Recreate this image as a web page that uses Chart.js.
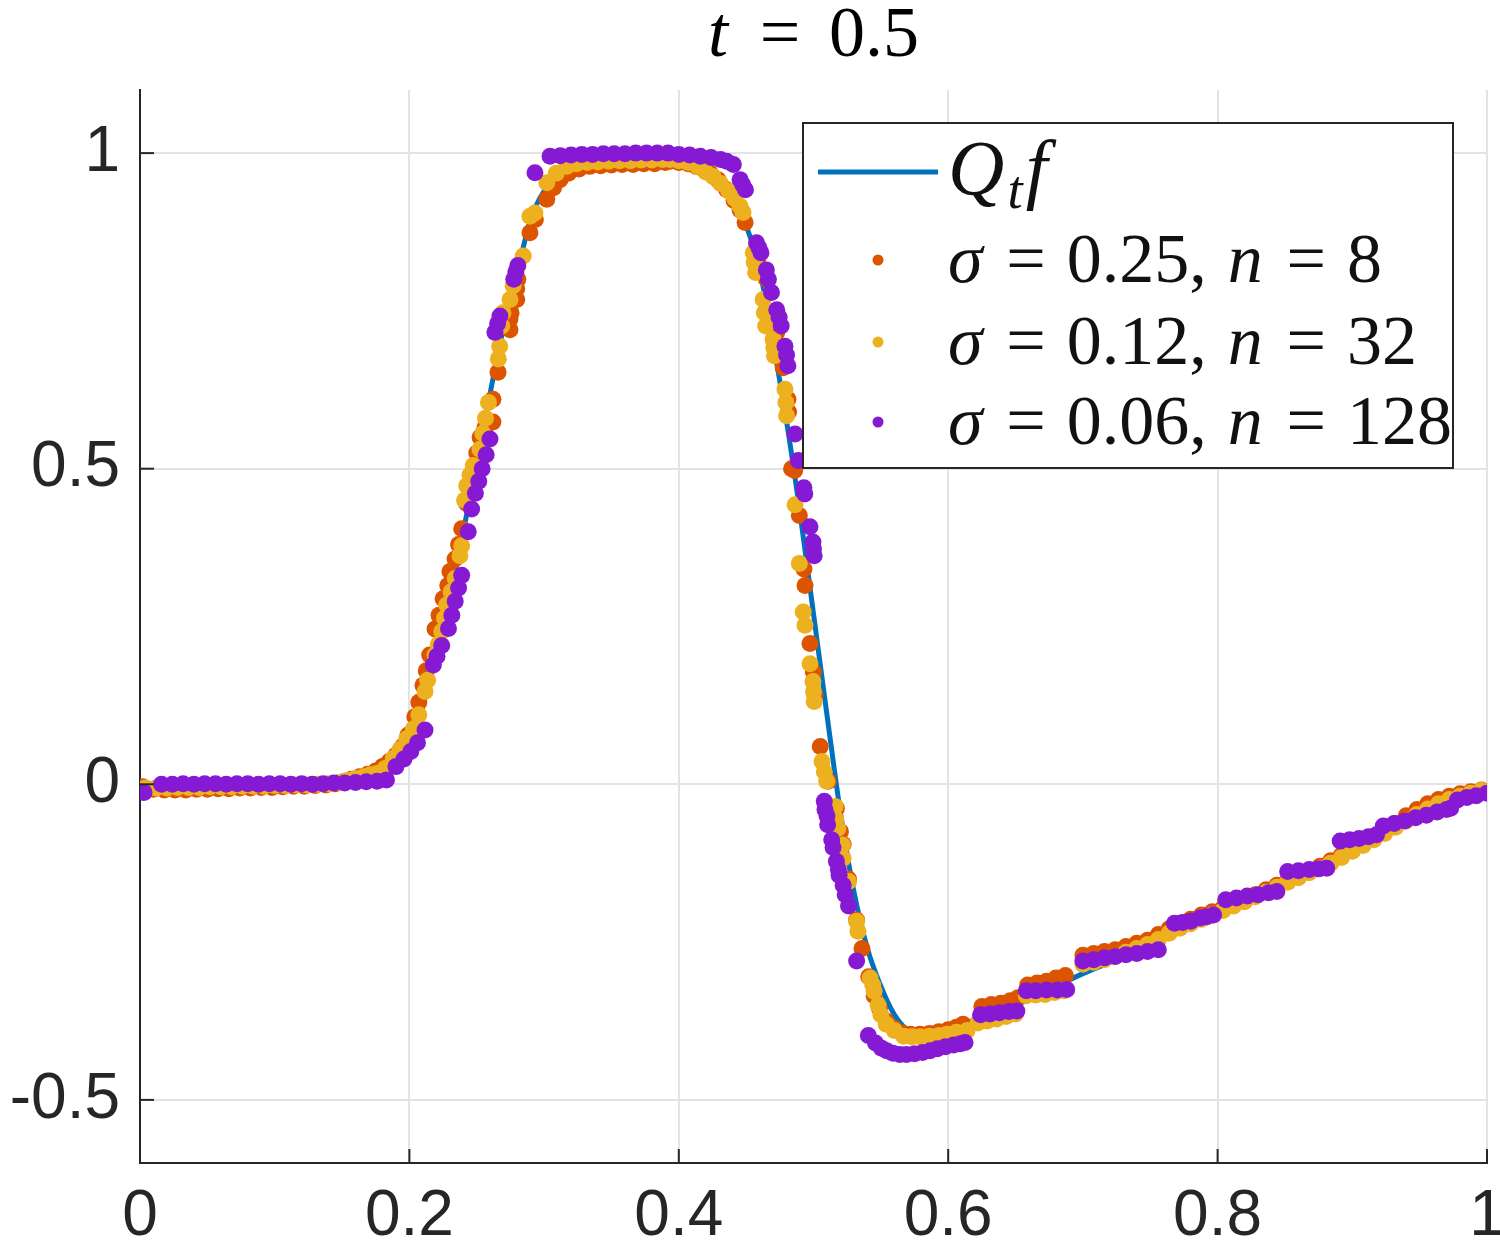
<!DOCTYPE html>
<html>
<head>
<meta charset="utf-8">
<script src="https://cdn.jsdelivr.net/npm/chart.js@4.4.1/dist/chart.umd.min.js"></script>
<style>
html, body { margin: 0; padding: 0; background: #fff; }
</style>
</head>
<body>
<canvas id="scatterChart" width="1500" height="1242"></canvas>
<script>
const xTicks = [0, 0.2, 0.4, 0.6, 0.8, 1];
const yTicks = [-0.5, 0, 0.5, 1];

// Q_t f, the reference curve
const qtCurve = [
    [0, -0.01], [0.05, -0.005], [0.1, -0.002], [0.13, 0], [0.15, 0.004], [0.17, 0.012],
    [0.18, 0.02], [0.19, 0.035], [0.2, 0.065], [0.21, 0.125], [0.22, 0.205], [0.23, 0.3],
    [0.24, 0.4], [0.25, 0.51], [0.26, 0.62], [0.27, 0.725], [0.28, 0.81], [0.29, 0.895],
    [0.3, 0.94], [0.31, 0.962], [0.32, 0.972], [0.34, 0.979], [0.36, 0.982], [0.38, 0.983],
    [0.4, 0.982], [0.41, 0.978], [0.42, 0.97], [0.43, 0.955], [0.44, 0.93], [0.45, 0.885],
    [0.46, 0.815], [0.47, 0.7], [0.48, 0.575], [0.49, 0.43], [0.5, 0.27], [0.51, 0.11],
    [0.52, -0.045], [0.53, -0.17], [0.54, -0.26], [0.55, -0.32], [0.56, -0.365], [0.57, -0.39],
    [0.58, -0.398], [0.59, -0.396], [0.6, -0.39], [0.62, -0.373], [0.65, -0.35], [0.7, -0.3],
    [0.75, -0.255], [0.8, -0.198], [0.85, -0.15], [0.9, -0.098], [0.95, -0.05], [1, -0.01]
];

// sigma = 0.25, n = 8
const sigma025 = [
    [0.002, -0.004], [0.010, -0.008], [0.018, -0.009], [0.026, -0.009], [0.034, -0.009], [0.042, -0.008],
    [0.050, -0.008], [0.058, -0.007], [0.066, -0.007], [0.074, -0.006], [0.082, -0.006], [0.090, -0.005],
    [0.098, -0.005], [0.106, -0.004], [0.114, -0.003], [0.122, -0.003], [0.130, -0.002], [0.138, -0.001],
    [0.145, 0.001], [0.151, 0.004], [0.157, 0.008], [0.163, 0.012], [0.169, 0.016], [0.175, 0.021],
    [0.180, 0.028], [0.185, 0.036], [0.190, 0.046], [0.195, 0.060], [0.199, 0.078], [0.204, 0.107],
    [0.207, 0.130], [0.2101, 0.157], [0.2125, 0.180], [0.215, 0.205], [0.219, 0.246], [0.222, 0.268],
    [0.225, 0.294], [0.2285, 0.315], [0.2301, 0.337], [0.2339, 0.357], [0.2365, 0.380], [0.2388, 0.405],
    [0.2425, 0.445], [0.245, 0.473], [0.2475, 0.500], [0.250, 0.525], [0.2525, 0.550], [0.256, 0.565],
    [0.262, 0.574], [0.262, 0.610], [0.2658, 0.653], [0.2747, 0.720], [0.2747, 0.737], [0.2755, 0.747],
    [0.2797, 0.768], [0.2797, 0.785], [0.2805, 0.800], [0.2895, 0.874], [0.2935, 0.895], [0.302, 0.927],
    [0.307, 0.945], [0.3118, 0.958], [0.318, 0.968], [0.326, 0.975], [0.334, 0.979], [0.342, 0.980],
    [0.350, 0.981], [0.358, 0.982], [0.366, 0.982], [0.374, 0.983], [0.382, 0.983], [0.390, 0.985],
    [0.3935, 0.987], [0.400, 0.985], [0.407, 0.983], [0.413, 0.979], [0.418, 0.975], [0.4232, 0.969],
    [0.429, 0.958], [0.4355, 0.942], [0.441, 0.925], [0.4455, 0.910], [0.4492, 0.890], [0.4577, 0.842],
    [0.4585, 0.830], [0.4595, 0.820], [0.4651, 0.800], [0.4727, 0.716], [0.4775, 0.660], [0.481, 0.610],
    [0.4815, 0.590], [0.4837, 0.500], [0.486, 0.497], [0.4895, 0.426], [0.4929, 0.341], [0.4937, 0.315],
    [0.4974, 0.223], [0.4999, 0.178], [0.501, 0.141], [0.505, 0.060], [0.511, 0.005], [0.517, -0.038],
    [0.520, -0.075], [0.522, -0.095], [0.526, -0.150], [0.532, -0.215], [0.536, -0.260], [0.541, -0.305],
    [0.545, -0.335], [0.549, -0.355], [0.554, -0.375], [0.560, -0.387], [0.566, -0.394], [0.572, -0.396],
    [0.579, -0.396], [0.586, -0.395], [0.593, -0.392], [0.600, -0.389], [0.606, -0.385], [0.611, -0.380],
    [0.625, -0.352], [0.632, -0.349], [0.639, -0.347], [0.646, -0.343], [0.652, -0.338], [0.659, -0.318],
    [0.666, -0.315], [0.673, -0.312], [0.680, -0.307], [0.687, -0.303], [0.700, -0.271], [0.708, -0.268],
    [0.716, -0.265], [0.724, -0.262], [0.732, -0.257], [0.740, -0.252], [0.748, -0.247], [0.756, -0.238],
    [0.764, -0.229], [0.772, -0.221], [0.780, -0.214], [0.788, -0.207], [0.796, -0.202], [0.804, -0.196],
    [0.812, -0.190], [0.820, -0.183], [0.828, -0.175], [0.836, -0.167], [0.844, -0.160], [0.852, -0.152],
    [0.860, -0.145], [0.868, -0.137], [0.876, -0.130], [0.884, -0.121], [0.892, -0.112], [0.900, -0.102],
    [0.908, -0.092], [0.916, -0.083], [0.924, -0.072], [0.932, -0.062], [0.940, -0.050], [0.948, -0.040],
    [0.956, -0.031], [0.964, -0.024], [0.972, -0.019], [0.980, -0.015], [0.988, -0.012], [0.996, -0.009]
];

// sigma = 0.12, n = 32
const sigma012 = [
    [0.004, -0.006], [0.012, -0.006], [0.020, -0.006], [0.028, -0.005], [0.036, -0.005], [0.044, -0.005],
    [0.052, -0.004], [0.060, -0.004], [0.068, -0.004], [0.076, -0.003], [0.084, -0.003], [0.092, -0.003],
    [0.100, -0.002], [0.108, -0.002], [0.116, -0.001], [0.124, -0.001], [0.132, 0.000], [0.140, 0.001],
    [0.148, 0.003], [0.154, 0.006], [0.160, 0.009], [0.166, 0.012], [0.171, 0.015], [0.176, 0.017],
    [0.182, 0.025], [0.188, 0.041], [0.193, 0.055], [0.198, 0.072], [0.203, 0.088], [0.207, 0.110],
    [0.2116, 0.147], [0.2135, 0.165], [0.219, 0.205], [0.2215, 0.222], [0.224, 0.242], [0.226, 0.263],
    [0.2277, 0.284], [0.231, 0.305], [0.234, 0.326], [0.2375, 0.362], [0.2388, 0.378], [0.241, 0.450],
    [0.2425, 0.473], [0.245, 0.490], [0.2474, 0.505], [0.2524, 0.531], [0.2545, 0.556], [0.2565, 0.580],
    [0.2587, 0.605], [0.266, 0.674], [0.267, 0.694], [0.2685, 0.726], [0.2695, 0.747], [0.2747, 0.768],
    [0.277, 0.790], [0.2845, 0.837], [0.2895, 0.900], [0.2932, 0.905], [0.302, 0.953], [0.309, 0.968],
    [0.3167, 0.979], [0.324, 0.983], [0.332, 0.985], [0.340, 0.986], [0.348, 0.987], [0.356, 0.988],
    [0.364, 0.988], [0.372, 0.989], [0.380, 0.989], [0.388, 0.990], [0.3935, 0.990], [0.400, 0.988],
    [0.407, 0.985], [0.414, 0.979], [0.420, 0.970], [0.4254, 0.963], [0.431, 0.952], [0.437, 0.940],
    [0.4415, 0.928], [0.4455, 0.916], [0.4477, 0.906], [0.4553, 0.842], [0.456, 0.827], [0.457, 0.811],
    [0.4626, 0.768], [0.4635, 0.747], [0.4645, 0.726], [0.470, 0.705], [0.4705, 0.692], [0.471, 0.679],
    [0.4788, 0.626], [0.4795, 0.605], [0.480, 0.584], [0.4863, 0.443], [0.4895, 0.350], [0.4924, 0.273],
    [0.4937, 0.252], [0.4974, 0.191], [0.4996, 0.163], [0.500, 0.147], [0.5005, 0.131], [0.5063, 0.036],
    [0.508, 0.020], [0.5098, 0.005], [0.516, -0.035], [0.5165, -0.055], [0.518, -0.070], [0.5215, -0.096],
    [0.522, -0.117], [0.526, -0.154], [0.532, -0.217], [0.533, -0.233], [0.542, -0.307], [0.544, -0.318],
    [0.545, -0.328], [0.548, -0.350], [0.550, -0.365], [0.554, -0.380], [0.560, -0.390], [0.567, -0.399],
    [0.573, -0.400], [0.579, -0.400], [0.586, -0.399], [0.593, -0.398], [0.599, -0.396], [0.606, -0.393],
    [0.614, -0.390], [0.622, -0.378], [0.629, -0.375], [0.636, -0.372], [0.643, -0.368], [0.650, -0.364],
    [0.658, -0.335], [0.665, -0.334], [0.672, -0.333], [0.679, -0.330], [0.686, -0.327], [0.700, -0.285],
    [0.708, -0.282], [0.716, -0.278], [0.724, -0.273], [0.732, -0.266], [0.740, -0.260], [0.748, -0.254],
    [0.756, -0.246], [0.764, -0.236], [0.772, -0.228], [0.780, -0.221], [0.788, -0.214], [0.796, -0.207],
    [0.804, -0.200], [0.812, -0.193], [0.820, -0.186], [0.828, -0.178], [0.836, -0.171], [0.844, -0.163],
    [0.852, -0.155], [0.860, -0.148], [0.868, -0.140], [0.876, -0.133], [0.884, -0.125], [0.892, -0.116],
    [0.900, -0.106], [0.908, -0.097], [0.916, -0.088], [0.924, -0.078], [0.932, -0.068], [0.940, -0.058],
    [0.948, -0.048], [0.956, -0.039], [0.964, -0.031], [0.972, -0.024], [0.980, -0.019], [0.988, -0.014],
    [0.996, -0.010]
];

// sigma = 0.06, n = 128
const sigma006 = [
    [0.003, -0.013], [0.016, 0.000], [0.024, 0.000], [0.032, 0.001], [0.040, 0.000], [0.048, 0.001],
    [0.056, 0.001], [0.064, 0.000], [0.072, 0.001], [0.080, 0.001], [0.088, 0.000], [0.096, 0.001],
    [0.104, 0.001], [0.112, 0.000], [0.120, 0.001], [0.128, 0.000], [0.136, 0.001], [0.144, 0.002],
    [0.152, 0.002], [0.160, 0.003], [0.168, 0.004], [0.176, 0.005], [0.183, 0.007], [0.190, 0.028],
    [0.196, 0.040], [0.201, 0.052], [0.206, 0.066], [0.2116, 0.086], [0.2178, 0.189], [0.2205, 0.203],
    [0.224, 0.220], [0.229, 0.247], [0.2315, 0.268], [0.234, 0.290], [0.2365, 0.311], [0.2388, 0.331],
    [0.2437, 0.400], [0.2462, 0.436], [0.249, 0.461], [0.2515, 0.480], [0.254, 0.500], [0.257, 0.522],
    [0.2598, 0.547], [0.2635, 0.716], [0.2655, 0.730], [0.2672, 0.742], [0.2775, 0.800], [0.279, 0.812],
    [0.2805, 0.822], [0.2932, 0.969], [0.3044, 0.995], [0.312, 0.996], [0.320, 0.997], [0.328, 0.998],
    [0.336, 0.998], [0.344, 0.999], [0.352, 0.999], [0.360, 0.999], [0.368, 1.000], [0.376, 1.000],
    [0.384, 1.000], [0.392, 1.000], [0.400, 0.998], [0.408, 0.997], [0.416, 0.995], [0.424, 0.993],
    [0.431, 0.990], [0.4355, 0.987], [0.4405, 0.982], [0.4455, 0.958], [0.4475, 0.950], [0.4495, 0.942],
    [0.4577, 0.858], [0.4595, 0.850], [0.461, 0.842], [0.465, 0.815], [0.4665, 0.800], [0.4688, 0.779],
    [0.4727, 0.752], [0.4745, 0.740], [0.476, 0.726], [0.4788, 0.694], [0.480, 0.680], [0.481, 0.663],
    [0.4863, 0.555], [0.4887, 0.513], [0.4929, 0.470], [0.4935, 0.460], [0.4974, 0.408], [0.4996, 0.384],
    [0.500, 0.373], [0.5005, 0.362], [0.508, -0.027], [0.5085, -0.040], [0.510, -0.050], [0.5105, -0.064],
    [0.5135, -0.088], [0.5145, -0.100], [0.517, -0.122], [0.5185, -0.135], [0.519, -0.144], [0.522, -0.160],
    [0.5235, -0.175], [0.526, -0.193], [0.532, -0.280], [0.5407, -0.398], [0.546, -0.410], [0.5505, -0.418],
    [0.5543, -0.422], [0.559, -0.426], [0.564, -0.428], [0.569, -0.428], [0.575, -0.427], [0.581, -0.425],
    [0.5865, -0.422], [0.592, -0.419], [0.598, -0.416], [0.604, -0.413], [0.609, -0.411], [0.6125, -0.409],
    [0.624, -0.365], [0.631, -0.364], [0.638, -0.362], [0.645, -0.360], [0.651, -0.359], [0.658, -0.327],
    [0.665, -0.327], [0.673, -0.326], [0.681, -0.326], [0.688, -0.325], [0.700, -0.280], [0.708, -0.278],
    [0.716, -0.275], [0.724, -0.273], [0.732, -0.270], [0.740, -0.268], [0.748, -0.265], [0.756, -0.262],
    [0.768, -0.220], [0.774, -0.219], [0.780, -0.217], [0.787, -0.212], [0.792, -0.210], [0.797, -0.207],
    [0.806, -0.183], [0.814, -0.180], [0.822, -0.177], [0.830, -0.175], [0.838, -0.172], [0.844, -0.170],
    [0.852, -0.138], [0.860, -0.137], [0.868, -0.135], [0.875, -0.134], [0.881, -0.133], [0.891, -0.090],
    [0.898, -0.088], [0.905, -0.086], [0.912, -0.083], [0.918, -0.080], [0.923, -0.066], [0.931, -0.062],
    [0.939, -0.058], [0.947, -0.053], [0.955, -0.049], [0.963, -0.044], [0.970, -0.040], [0.973, -0.038],
    [0.978, -0.025], [0.985, -0.021], [0.992, -0.018], [1.000, -0.014]
];

const toPoints = arr => arr.map(p => ({x: p[0], y: p[1]}));

// text with italic letters, "_" makes the next char a subscript
function drawMath(ctx, text, x, baseline, size, gap, dry) {
    let pos = x;
    for (let i = 0; i < text.length; i++) {
        let ch = text[i];
        if (ch === ' ') { pos += size * gap; continue; }
        let sub = false;
        if (ch === '_') { sub = true; ch = text[++i]; }
        const italic = /[A-Za-zσ]/.test(ch);
        const fs = sub ? size * 0.7 : size;
        ctx.font = (italic ? 'italic ' : '') + fs + 'px "Liberation Serif"';
        if (!dry) ctx.fillText(ch, pos, sub ? baseline + size * 0.18 : baseline);
        pos += ctx.measureText(ch).width + (italic ? size * 0.04 : 0);
    }
    return pos - x;
}

const decorations = {
    id: 'decorations',
    afterDatasetsDraw(chart) {
        const ctx = chart.ctx;
        const ca = chart.chartArea;
        const sx = chart.scales.x, sy = chart.scales.y;
        ctx.save();

        // inward tick marks
        ctx.strokeStyle = '#262626';
        ctx.lineWidth = 2;
        xTicks.forEach(v => {
            const px = sx.getPixelForValue(v);
            ctx.beginPath(); ctx.moveTo(px, ca.bottom); ctx.lineTo(px, ca.bottom - 14); ctx.stroke();
        });
        yTicks.forEach(v => {
            const py = sy.getPixelForValue(v);
            ctx.beginPath(); ctx.moveTo(ca.left, py); ctx.lineTo(ca.left + 14, py); ctx.stroke();
        });

        // title
        ctx.fillStyle = '#000';
        ctx.textBaseline = 'alphabetic';
        const title = 't = 0.5';
        const tw = drawMath(ctx, title, 0, 0, 72, 0.4, true);
        drawMath(ctx, title, (ca.left + ca.right) / 2 - tw / 2, 56, 72, 0.4, false);

        // legend box
        const bx = ca.right - 684, by = ca.top + 33, bw = 650, bh = 345;
        ctx.fillStyle = '#fff';
        ctx.fillRect(bx, by, bw, bh);
        ctx.strokeStyle = '#262626';
        ctx.lineWidth = 2;
        ctx.strokeRect(bx, by, bw, bh);

        const rows = [49, 137, 219, 299];
        chart.data.datasets.forEach((ds, i) => {
            const cy = by + rows[i];
            if (ds.showLine) {
                ctx.strokeStyle = ds.borderColor;
                ctx.lineWidth = 5;
                ctx.beginPath(); ctx.moveTo(bx + 15, cy); ctx.lineTo(bx + 135, cy); ctx.stroke();
            } else {
                ctx.fillStyle = ds.backgroundColor;
                ctx.beginPath(); ctx.arc(bx + 75, cy, 5.5, 0, Math.PI * 2); ctx.fill();
            }
            ctx.fillStyle = '#111';
            const size = i === 0 ? 78 : 70;
            drawMath(ctx, ds.label, bx + 145, cy + 22, size, 0.3, false);
        });
        ctx.restore();
    }
};

const tickFont = {family: '"Liberation Sans", Arial, sans-serif', size: 64};

new Chart('scatterChart', {
    type: 'scatter',
    data: {
        datasets: [
            {
                label: 'Q_tf',
                data: toPoints(qtCurve),
                showLine: true,
                borderColor: '#0072BD',
                borderWidth: 5,
                pointRadius: 0,
                cubicInterpolationMode: 'monotone',
                order: 3
            },
            {
                label: 'σ = 0.25, n = 8',
                data: toPoints(sigma025),
                backgroundColor: '#DC5400',
                pointRadius: 8.5,
                pointBorderWidth: 0,
                order: 2
            },
            {
                label: 'σ = 0.12, n = 32',
                data: toPoints(sigma012),
                backgroundColor: '#EDB120',
                pointRadius: 8.5,
                pointBorderWidth: 0,
                order: 1
            },
            {
                label: 'σ = 0.06, n = 128',
                data: toPoints(sigma006),
                backgroundColor: '#861AD4',
                pointRadius: 8.5,
                pointBorderWidth: 0,
                order: 0
            }
        ]
    },
    options: {
        responsive: false,
        animation: false,
        devicePixelRatio: 1,
        layout: {padding: {top: 90, right: 13, left: 0, bottom: 0}},
        plugins: {
            legend: {display: false},
            tooltip: {enabled: false},
            title: {display: false}
        },
        scales: {
            x: {
                type: 'linear',
                min: 0,
                max: 1,
                afterBuildTicks: s => { s.ticks = xTicks.map(v => ({value: v})); },
                afterFit: s => { s.height = 79; s.paddingLeft = 0; s.paddingRight = 0; },
                ticks: {
                    font: tickFont,
                    color: '#262626',
                    padding: 16,
                    maxRotation: 0,
                    autoSkip: false,
                    callback: v => String(v)
                },
                grid: {color: '#e3e3e3', lineWidth: 2, drawTicks: false},
                border: {color: '#262626', width: 2}
            },
            y: {
                min: -0.6,
                max: 1.1,
                afterBuildTicks: s => { s.ticks = yTicks.map(v => ({value: v})); },
                afterFit: s => { s.width = 140; s.paddingTop = 0; s.paddingBottom = 0; },
                ticks: {
                    font: tickFont,
                    color: '#262626',
                    padding: 20,
                    autoSkip: false,
                    callback: v => String(v)
                },
                grid: {color: '#e3e3e3', lineWidth: 2, drawTicks: false},
                border: {color: '#262626', width: 2}
            }
        }
    },
    plugins: [decorations]
});
</script>
</body>
</html>
